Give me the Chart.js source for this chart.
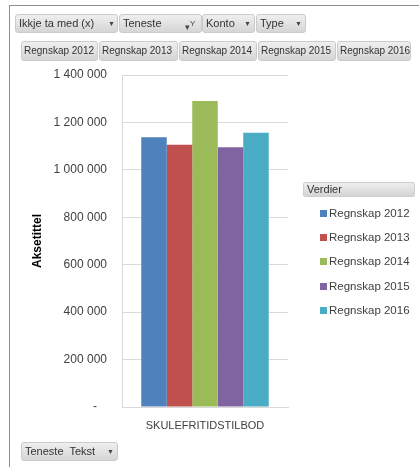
<!DOCTYPE html>
<html>
<head>
<meta charset="utf-8">
<script src="https://cdn.jsdelivr.net/npm/chart.js@4/dist/chart.umd.min.js"></script>
<style>
    body { margin: 0; background: #fff; }
    #wrap { position: relative; width: 419px; height: 467px; overflow: hidden; font-family: "Liberation Sans", Arial, sans-serif; }
    .frame { position: absolute; left: 9px; top: 5px; right: -2px; bottom: -2px; border-top: 1px solid #8f8f8f; border-left: 1px solid #8f8f8f; }
    #chartBox { position: absolute; left: 0; top: 0; width: 419px; height: 467px; }
    .btn {
        position: absolute; box-sizing: border-box; height: 19px; line-height: 17px; overflow: hidden;
        background: linear-gradient(#efefef, #d5d5d5); border: 1px solid #cbcbcb; border-radius: 3px;
        font-size: 11px; color: #333; padding-left: 3px; white-space: nowrap;
    }
    .btn .arr { position: absolute; top: 0; font-size: 7px; color: #444; }
    .legend-title {
        position: absolute; left: 303px; top: 182px; width: 112px; height: 15px; box-sizing: border-box;
        background: linear-gradient(#eeeeee, #d4d4d4); border: 1px solid #cfcfcf; border-radius: 2px;
        font-size: 11px; line-height: 13px; color: #333; padding-left: 3px;
    }
    .leg-item { position: absolute; left: 320px; font-size: 11.5px; color: #404040; height: 14px; line-height: 14px; white-space: nowrap; }
    .leg-item i { display: inline-block; width: 7px; height: 7px; margin-right: 2px; vertical-align: 0px; }
</style>
</head>
<body>
<div id="wrap">
    <div class="frame"></div>
    <div id="chartBox"><canvas id="pivotChart"></canvas></div>

    <div class="btn" style="left:15px;top:14px;width:103px;">Ikkje ta med (x)<span class="arr" style="left:92px">▼</span></div>
    <div class="btn" style="left:119px;top:14px;width:83px;">Teneste<span class="arr" style="left:65px;font-size:9px;">▾<sup style="font-size:8px">Y</sup></span></div>
    <div class="btn" style="left:202px;top:14px;width:53px;">Konto<span class="arr" style="left:41px">▼</span></div>
    <div class="btn" style="left:256px;top:14px;width:50px;">Type<span class="arr" style="left:38px">▼</span></div>

    <div id="seriesButtons"></div>

    <div class="btn" style="left:21px;top:442px;width:97px;">Teneste&nbsp; Tekst<span class="arr" style="left:85px">▼</span></div>

    <div class="legend-title">Verdier</div>
    <div id="legend"></div>
</div>

<script>
// Data lest av figuren
const categories = ["SKULEFRITIDSTILBOD"];
const seriesNames = ["Regnskap 2012", "Regnskap 2013", "Regnskap 2014", "Regnskap 2015", "Regnskap 2016"];
const regnskap2012 = [1137000];
const regnskap2013 = [1106000];
const regnskap2014 = [1290000];
const regnskap2015 = [1095000];
const regnskap2016 = [1157000];
const yTicks = [0, 200000, 400000, 600000, 800000, 1000000, 1200000, 1400000];
const axisTitle = "Aksetittel";
const legendTitle = "Verdier";

const seriesValues = [regnskap2012, regnskap2013, regnskap2014, regnskap2015, regnskap2016];
const seriesColors = ["#4F81BD", "#C0504D", "#9BBB59", "#8064A2", "#4BACC6"];

// tusenskilje med mellomrom, null som "-"
const fmt = (v) => (v === 0 ? "-   " : String(v).replace(/\B(?=(\d{3})+(?!\d))/g, " "));

// knappar for verdifelt
const btnLeft = [21, 99, 179, 258, 337];
const btnWidth = [77, 79, 78, 78, 74];
document.getElementById("seriesButtons").innerHTML = seriesNames
    .map((n, i) => `<div class="btn" style="left:${btnLeft[i]}px;top:41px;width:${btnWidth[i]}px;height:20px;line-height:18px;font-size:10px;padding-left:2px;">${n}</div>`)
    .join("");

// forklaring
document.querySelector(".legend-title").textContent = legendTitle;
document.getElementById("legend").innerHTML = seriesNames
    .map((n, i) => `<div class="leg-item" style="top:${206 + i * 24.2}px"><i style="background:${seriesColors[i]}"></i>${n}</div>`)
    .join("");

new Chart(document.getElementById("pivotChart"), {
    type: "bar",
    data: {
        labels: categories,
        datasets: seriesNames.map((name, i) => ({
            label: name,
            data: seriesValues[i],
            backgroundColor: seriesColors[i],
            borderWidth: 0,
            categoryPercentage: 0.768,
            barPercentage: 1,
        })),
    },
    options: {
        responsive: true,
        maintainAspectRatio: false,
        animation: false,
        layout: { padding: { left: 30, top: 75, right: 131, bottom: 25 } },
        plugins: { legend: { display: false }, tooltip: { enabled: false } },
        scales: {
            x: {
                grid: { display: false, drawTicks: false },
                border: { color: "#d9d9d9" },
                ticks: { color: "#404040", font: { family: "Liberation Sans", size: 11 }, padding: 12 },
                afterFit: (s) => { s.height = 35; },
            },
            y: {
                min: yTicks[0],
                max: yTicks[yTicks.length - 1],
                afterBuildTicks: (s) => { s.ticks = yTicks.map((v) => ({ value: v })); },
                grid: { color: "#d9d9d9", drawTicks: false },
                border: { color: "#d9d9d9" },
                ticks: { color: "#404040", font: { family: "Liberation Sans", size: 12 }, padding: 15, callback: fmt },
                title: { display: true, text: axisTitle, color: "#000", font: { family: "Liberation Sans", size: 12, weight: "bold" }, padding: 0 },
                afterFit: (s) => { s.width = 92; },
            },
        },
    },
});
</script>
</body>
</html>
